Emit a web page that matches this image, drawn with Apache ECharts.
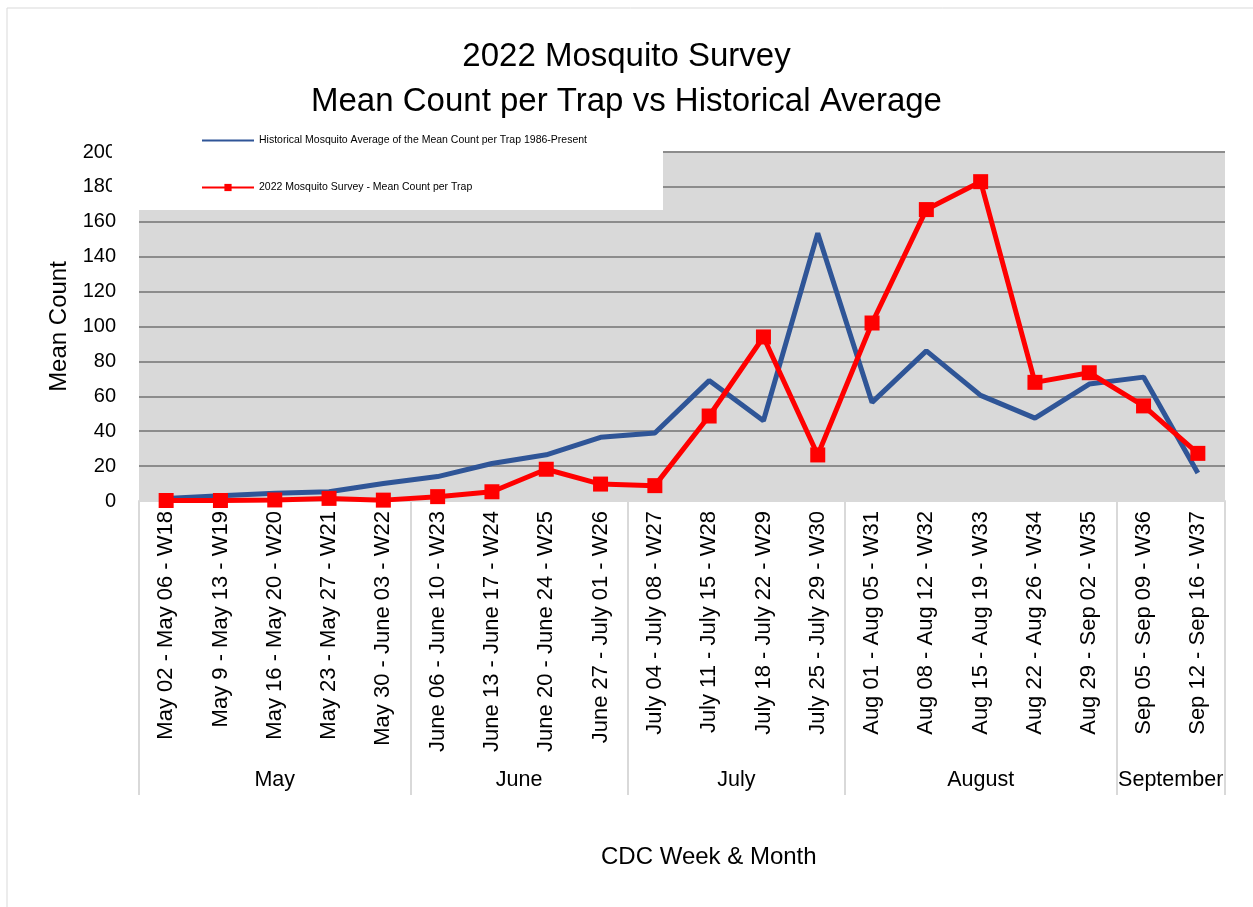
<!DOCTYPE html>
<html>
<head>
<meta charset="utf-8">
<script src="https://cdn.jsdelivr.net/npm/echarts@6/dist/echarts.min.js"></script>
<style>
  html, body { margin: 0; padding: 0; background: #fff; }
  #chart { width: 1253px; height: 907px; }
</style>
</head>
<body>
<div id="chart"></div>
<script>
const weeks = [
  "May 02 - May 06 - W18",
  "May 9 - May 13 - W19",
  "May 16 - May 20 - W20",
  "May 23 - May 27 - W21",
  "May 30 - June 03 - W22",
  "June 06 - June 10 - W23",
  "June 13 - June 17 - W24",
  "June 20 - June 24 - W25",
  "June 27 - July 01 - W26",
  "July 04 - July 08 - W27",
  "July 11 - July 15 - W28",
  "July 18 - July 22 - W29",
  "July 25 - July 29 - W30",
  "Aug 01 - Aug 05 - W31",
  "Aug 08 - Aug 12 - W32",
  "Aug 15 - Aug 19 - W33",
  "Aug 22 - Aug 26 - W34",
  "Aug 29 - Sep 02 - W35",
  "Sep 05 - Sep 09 - W36",
  "Sep 12 - Sep 16 - W37",
];

const historical = [1.5, 3, 4.5, 5.3, 10, 14, 21.5, 26.5, 36.5, 39, 69, 46, 153.5, 56.5, 86, 60.5, 47.5, 67, 71, 16];
const survey2022 = [0.3, 0.3, 0.6, 1.5, 0.5, 2.5, 5.3, 18.2, 9.7, 8.8, 48.7, 94, 26.4, 102, 167, 183, 68, 73.5, 54.5, 27.3];

// month groups: name and index of first week
const months = ["May", "June", "July", "August", "September"];
const monthStart = [0, 5, 9, 13, 18];

const monthEdges = monthStart.concat([weeks.length]);
const monthMids = monthStart.map((s, i) => (s + monthEdges[i + 1]) / 2);

const FONT = "Liberation Sans";

const chart = echarts.init(document.getElementById("chart"));
chart.setOption({
  backgroundColor: "#fff",
  animation: false,
  textStyle: { fontFamily: FONT, color: "#000" },
  title: [
    {
      text: "2022 Mosquito Survey\nMean Count per Trap vs Historical Average",
      left: "center",
      top: 29,
      textStyle: { fontFamily: FONT, fontSize: 33, fontWeight: "normal", color: "#000", lineHeight: 45 },
    },
    {
      text: "CDC Week & Month",
      left: 596,
      top: 840,
      textStyle: { fontFamily: FONT, fontSize: 24, fontWeight: "normal", color: "#000" },
    },
  ],
  legend: {
    left: 112,
    top: 130,
    orient: "vertical",
    backgroundColor: "#fff",
    padding: [5, 76, 17, 89],
    itemGap: 36,
    itemWidth: 52,
    itemHeight: 9,
    z: 10,
    textStyle: { fontFamily: FONT, fontSize: 10.5, color: "#000" },
    data: [
      { name: "Historical Mosquito Average of the Mean Count per Trap 1986-Present", itemStyle: { opacity: 0 } },
      { name: "2022 Mosquito Survey - Mean Count per Trap" },
    ],
  },
  graphic: [
    {
      type: "rect",
      shape: { x: 7, y: 8, width: 1250, height: 905 },
      style: { fill: null, stroke: "#d9d9d9", lineWidth: 1 },
      silent: true,
    },
  ],
  grid: {
    left: 139,
    right: 28,
    top: 152,
    bottom: 406,
    show: true,
    backgroundColor: "#d9d9d9",
    borderWidth: 0,
  },
  xAxis: [
    {
      type: "category",
      data: weeks,
      boundaryGap: true,
      axisLine: { lineStyle: { color: "#d9d9d9", width: 2 } },
      axisTick: { show: false },
      axisLabel: { rotate: 90, interval: 0, fontSize: 22, margin: 10, color: "#000", fontFamily: FONT },
    },
    {
      type: "value",
      min: 0,
      max: weeks.length,
      position: "bottom",
      axisLine: { show: false },
      splitLine: { show: false },
      axisTick: {
        show: true,
        customValues: monthEdges,
        length: 294,
        lineStyle: { color: "#d9d9d9", width: 2 },
      },
      axisLabel: {
        customValues: monthMids,
        formatter: (v) => months[monthMids.indexOf(v)],
        margin: 268,
        fontSize: 21.5,
        color: "#000",
        fontFamily: FONT,
      },
    },
  ],
  yAxis: {
    type: "value",
    min: 0,
    max: 200,
    interval: 20,
    name: "Mean Count",
    nameLocation: "middle",
    nameGap: 66,
    nameTextStyle: { fontSize: 24, color: "#000", fontFamily: FONT },
    axisLine: { show: false },
    axisTick: { show: false },
    axisLabel: { fontSize: 20, margin: 23, color: "#000", fontFamily: FONT },
    splitLine: { lineStyle: { color: "#8c8c8c", width: 2 } },
  },
  series: [
    {
      name: "Historical Mosquito Average of the Mean Count per Trap 1986-Present",
      type: "line",
      data: historical,
      symbol: "none",
      lineStyle: { color: "#2f5597", width: 5 },
      itemStyle: { color: "#2f5597" },
      z: 3,
    },
    {
      name: "2022 Mosquito Survey - Mean Count per Trap",
      type: "line",
      data: survey2022,
      symbol: "rect",
      symbolSize: 15,
      lineStyle: { color: "#ff0000", width: 5 },
      itemStyle: { color: "#ff0000" },
      z: 4,
    },
  ],
});
</script>
</body>
</html>
